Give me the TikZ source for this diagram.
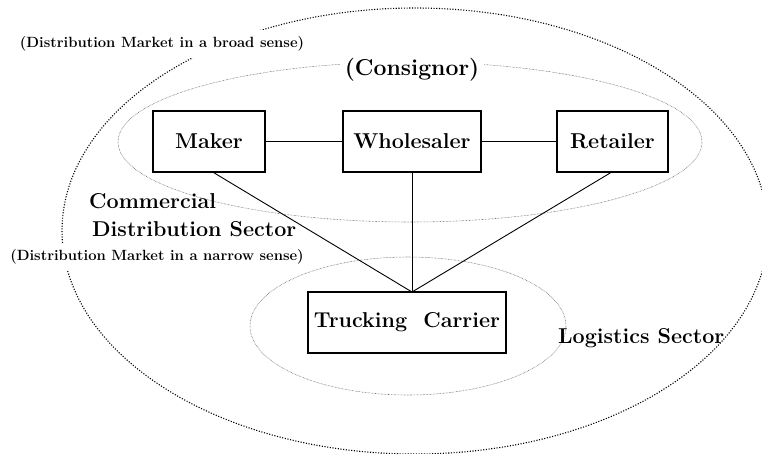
\documentclass[tikz,border=0pt]{standalone}
\begin{document}
\begin{tikzpicture}[x=1pt,y=-1pt,
  bigdots/.style={line width=1.1pt, dash pattern=on 1.1pt off 1.6pt},
  thindots/.style={line width=0.55pt, draw=black!65, dash pattern=on 0.55pt off 0.9pt},
  actor/.style={draw, line width=1.6pt, minimum width=#1, minimum height=61pt, inner sep=0pt, font=\fontsize{21.5}{25}\selectfont\bfseries},
  smalllab/.style={fill=white, inner xsep=2pt, inner ysep=7pt, font=\fontsize{14.8}{17}\selectfont\bfseries},
  biglab/.style={font=\fontsize{21.5}{28.5}\selectfont\bfseries, align=left, inner sep=0pt},
  link/.style={line width=0.9pt}]
\useasboundingbox (0,0) rectangle (762,453);
\begin{scope}
\clip (0,0) rectangle (762,453);
\draw[bigdots] (415,231) ellipse [x radius=353, y radius=223];
\end{scope}
\draw[thindots] (410,142) ellipse [x radius=292, y radius=80];
\draw[thindots] (408,326) ellipse [x radius=158, y radius=69];

\node[smalllab] (broad) at (162,44) {(Distribution Market in a broad sense)};
\node[smalllab] (narrow) at (157,257) {(Distribution Market in a narrow sense)};
\node[biglab, font=\fontsize{23}{26}\selectfont\bfseries, fill=white, inner xsep=5pt, inner ysep=4pt] (consignor) at (412,70) {(Consignor)};

\node[actor=112pt] (maker) at (209,141.5) {Maker};
\node[actor=138pt] (whole) at (412,141.5) {Wholesaler};
\node[actor=111pt] (retail) at (612.5,141.5) {Retailer};
\node[actor=198pt] (truck) at (407,322.5) {Trucking\ \ Carrier};

\node[biglab, anchor=base west] (comm) at (89,208) {Commercial};
\node[biglab, anchor=base west] (distsec) at (92,236) {Distribution Sector};
\node[biglab, anchor=west] (logi) at (558,338) {Logistics Sector};

\coordinate (meet) at (412,292);
\draw[link] (maker.east) -- (whole.west);
\draw[link] (whole.east) -- (retail.west);
\path (maker.south) ++(5,0) coordinate (mk);
\draw[link] (mk) -- (meet);
\draw[link] (whole.south) -- (meet);
\path (retail.south) ++(-2,0) coordinate (rt);
\draw[link] (rt) -- (meet);
\end{tikzpicture}
\end{document}
